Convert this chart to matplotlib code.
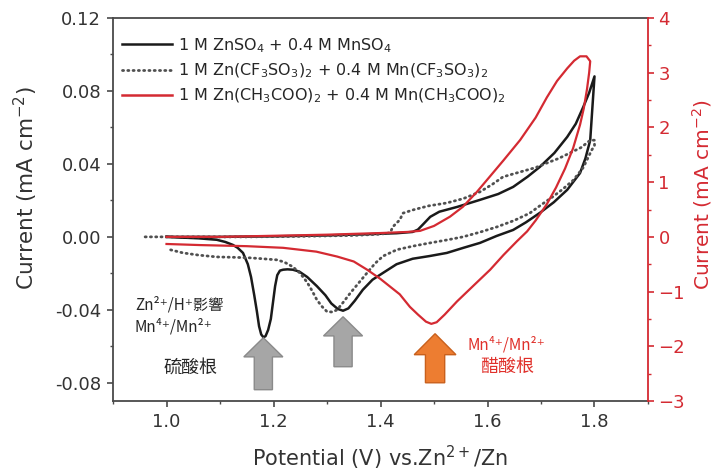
#!/usr/bin/env python
# coding: utf-8
import numpy as np
import matplotlib
matplotlib.use('Agg')
import matplotlib.pyplot as plt
from matplotlib.lines import Line2D
from matplotlib.patches import FancyArrow
from matplotlib.ticker import MultipleLocator

# ============
# data
# ============
# 1 M ZnSO4 + 0.4 M MnSO4  -> left axis
zs_fwd_v = [1.000, 1.100, 1.200, 1.300, 1.380, 1.430, 1.460, 1.470, 1.480, 1.493, 1.510,
            1.543, 1.586, 1.620, 1.648, 1.675, 1.698, 1.725, 1.749, 1.765, 1.779, 1.790, 1.800]
zs_fwd_i = [0.0, 0.0, 0.0003, 0.0008, 0.0015, 0.002, 0.0027, 0.004, 0.007, 0.011, 0.0138,
            0.0164, 0.0203, 0.0235, 0.0274, 0.033, 0.0384, 0.046, 0.0548, 0.062, 0.0712, 0.079, 0.088]
zs_rev_v = [1.800, 1.797, 1.792, 1.783, 1.773, 1.749, 1.724, 1.698, 1.672, 1.648, 1.617, 1.586,
            1.555, 1.524, 1.492, 1.460, 1.430, 1.405, 1.385, 1.367, 1.352, 1.340, 1.330, 1.320,
            1.308, 1.297, 1.281, 1.263, 1.248, 1.236, 1.226, 1.218, 1.212, 1.207, 1.203, 1.199,
            1.195, 1.190, 1.185, 1.181, 1.177, 1.173, 1.169, 1.164, 1.158, 1.152, 1.143, 1.133,
            1.124, 1.110, 1.094, 1.060, 1.030, 1.000]
zs_rev_i = [0.088, 0.075, 0.053, 0.043, 0.035, 0.0258, 0.019, 0.0132, 0.008, 0.0038, 0.0005, -0.0033,
            -0.006, -0.0088, -0.0105, -0.012, -0.015, -0.0197, -0.0235, -0.029, -0.035, -0.0392, -0.0405, -0.0395,
            -0.0365, -0.032, -0.027, -0.022, -0.019, -0.018, -0.0178, -0.018, -0.0185, -0.021, -0.027, -0.036,
            -0.045, -0.051, -0.0545, -0.055, -0.0535, -0.049, -0.041, -0.032, -0.022, -0.015, -0.0088, -0.006,
            -0.0044, -0.0028, -0.0016, -0.0008, -0.0004, 0.0]

# 1 M Zn(CF3SO3)2 + 0.4 M Mn(CF3SO3)2 -> left axis
cf_fwd_v = [0.960, 1.050, 1.150, 1.250, 1.350, 1.400, 1.418, 1.423, 1.436, 1.442, 1.461, 1.490,
            1.524, 1.555, 1.586, 1.610, 1.629, 1.661, 1.690, 1.711, 1.733, 1.754, 1.775, 1.792, 1.800]
cf_fwd_i = [0.0, 0.0, 0.0, 0.0003, 0.0008, 0.0015, 0.0022, 0.0055, 0.0093, 0.013, 0.0148, 0.017,
            0.0186, 0.021, 0.0247, 0.029, 0.0329, 0.0356, 0.038, 0.0405, 0.043, 0.046, 0.049, 0.053, 0.053]
cf_rev_v = [1.800, 1.795, 1.779, 1.760, 1.740, 1.722, 1.700, 1.679, 1.650, 1.618, 1.585, 1.554,
            1.524, 1.493, 1.462, 1.431, 1.405, 1.390, 1.375, 1.360, 1.343, 1.330, 1.319, 1.310,
            1.300, 1.290, 1.281, 1.272, 1.263, 1.250, 1.236, 1.220, 1.206, 1.180, 1.156, 1.125,
            1.094, 1.060, 1.031, 1.006]
cf_rev_i = [0.050, 0.0477, 0.038, 0.031, 0.026, 0.022, 0.0175, 0.013, 0.009, 0.0055, 0.0025, 0.0,
            -0.0017, -0.0033, -0.005, -0.007, -0.0105, -0.0145, -0.0197, -0.025, -0.031, -0.036, -0.040, -0.0412,
            -0.041, -0.038, -0.0345, -0.0295, -0.025, -0.020, -0.0164, -0.0138, -0.0126, -0.012, -0.0115, -0.0112,
            -0.011, -0.010, -0.0088, -0.007]

# 1 M Zn(CH3COO)2 + 0.4 M Mn(CH3COO)2 -> right axis
ac_fwd_v = [1.000, 1.100, 1.200, 1.300, 1.400, 1.450, 1.474, 1.500, 1.530, 1.554, 1.580, 1.599,
            1.630, 1.661, 1.690, 1.711, 1.730, 1.749, 1.762, 1.773, 1.785, 1.792]
ac_fwd_i = [0.0, 0.0, 0.02, 0.04, 0.07, 0.09, 0.11, 0.2, 0.37, 0.55, 0.82, 1.04,
            1.40, 1.77, 2.18, 2.55, 2.85, 3.08, 3.22, 3.30, 3.30, 3.21]
ac_rev_v = [1.792, 1.790, 1.786, 1.780, 1.773, 1.760, 1.745, 1.728, 1.711, 1.690, 1.674, 1.655,
            1.630, 1.605, 1.575, 1.543, 1.520, 1.505, 1.495, 1.485, 1.470, 1.455, 1.436, 1.418,
            1.400, 1.375, 1.350, 1.319, 1.280, 1.218, 1.150, 1.063, 1.000]
ac_rev_i = [3.21, 3.00, 2.70, 2.35, 2.05, 1.62, 1.25, 0.90, 0.60, 0.30, 0.10, -0.08,
            -0.33, -0.60, -0.88, -1.18, -1.42, -1.56, -1.59, -1.55, -1.42, -1.28, -1.05, -0.91,
            -0.77, -0.60, -0.45, -0.36, -0.27, -0.20, -0.17, -0.15, -0.13]

labels = ['1 M ZnSO$_4$ + 0.4 M MnSO$_4$',
          '1 M Zn(CF$_3$SO$_3$)$_2$ + 0.4 M Mn(CF$_3$SO$_3$)$_2$',
          '1 M Zn(CH$_3$COO)$_2$ + 0.4 M Mn(CH$_3$COO)$_2$']

# peak markers (potential, tip current, base current) on left axis
gray_arrow_v = [1.181, 1.330]
gray_arrow_tip = [-0.0553, -0.0438]
gray_arrow_base = [-0.0838, -0.0712]
orange_arrow_v = 1.502
orange_arrow_tip = -0.0531
orange_arrow_base = -0.0800

# ============
# plot
# ============
red = '#d42a32'
dark = '#4a4a4a'
cjk = ['Noto Sans CJK TC', 'DejaVu Sans']

fig = plt.figure(figsize=(7.18, 4.73), dpi=100)
ax = fig.add_axes([0.1574, 0.1522, 0.7451, 0.8097])
ax2 = ax.twinx()

ax.plot(zs_fwd_v + zs_rev_v, zs_fwd_i + zs_rev_i, color='#1a1a1a', lw=1.8, zorder=3)
ax.plot(cf_fwd_v + cf_rev_v, cf_fwd_i + cf_rev_i, color='#505050', lw=2.0,
        linestyle=(0, (0.4, 1.5)), dash_capstyle='round', zorder=3)
ax2.plot(ac_fwd_v + ac_rev_v, ac_fwd_i + ac_rev_i, color=red, lw=1.6, zorder=3)

# arrows
for xv, tip, base in zip(gray_arrow_v, gray_arrow_tip, gray_arrow_base):
    ax.add_patch(FancyArrow(xv, base, 0, tip - base, width=0.034, head_width=0.073,
                            head_length=0.0105, length_includes_head=True,
                            facecolor='#a6a6a6', edgecolor='#8a8a8a', lw=1.0, zorder=4))
ax.add_patch(FancyArrow(orange_arrow_v, orange_arrow_base, 0, orange_arrow_tip - orange_arrow_base,
                        width=0.036, head_width=0.078, head_length=0.0115, length_includes_head=True,
                        facecolor='#ed7d31', edgecolor='#c9601c', lw=1.0, zorder=4))

# annotations
ax.text(0.941, -0.0373, 'Zn²⁺/H⁺影響', family=cjk, fontsize=11, color='#262626',
        ha='left', va='center')
ax.text(0.941, -0.0493, 'Mn⁴⁺/Mn²⁺', family=cjk, fontsize=11, color='#262626',
        ha='left', va='center')
ax.text(1.044, -0.0718, '硫酸根', family=cjk, fontsize=13, color='#262626',
        ha='center', va='center')
ax.text(1.635, -0.0592, 'Mn⁴⁺/Mn²⁺', family=cjk, fontsize=11, color='#e0302a',
        ha='center', va='center')
ax.text(1.636, -0.0712, '醋酸根', family=cjk, fontsize=13, color='#e0302a',
        ha='center', va='center')

# axes
ax.set_xlim(0.9, 1.9)
ax.set_ylim(-0.09, 0.12)
ax2.set_ylim(-3, 4)
ax.set_xticks([1.0, 1.2, 1.4, 1.6, 1.8])
ax.xaxis.set_minor_locator(MultipleLocator(0.1))
ax.set_yticks([-0.08, -0.04, 0.0, 0.04, 0.08, 0.12])
ax.yaxis.set_minor_locator(MultipleLocator(0.02))
ax2.set_yticks(range(-3, 5))
ax2.yaxis.set_minor_locator(MultipleLocator(0.5))
ax.set_xticklabels(['1.0', '1.2', '1.4', '1.6', '1.8'])
ax.set_yticklabels(['-0.08', '-0.04', '0.00', '0.04', '0.08', '0.12'])

for s in ['left', 'bottom', 'top']:
    ax.spines[s].set_color(dark)
    ax.spines[s].set_linewidth(1.3)
ax.spines['right'].set_visible(False)
for s in ['left', 'bottom', 'top']:
    ax2.spines[s].set_visible(False)
ax2.spines['right'].set_color(red)
ax2.spines['right'].set_linewidth(1.3)

ax.tick_params(which='major', direction='out', length=4.5, width=1.2, color=dark,
               labelsize=13, labelcolor='#333333', pad=4)
ax.tick_params(which='minor', direction='out', length=2.5, width=1.0, color=dark)
ax2.tick_params(which='major', direction='out', length=4.5, width=1.2, color=red,
                labelsize=13, labelcolor=red, pad=3)
ax2.tick_params(which='minor', direction='out', length=2.5, width=1.0, color=red)

ax.set_ylabel('Current (mA cm$^{-2}$)', fontsize=15.5, color='#333333')
ax.yaxis.set_label_coords(-0.136, 0.555)
ax2.set_ylabel('Current (mA cm$^{-2}$)', fontsize=14.5, color=red, rotation=90)
ax2.yaxis.set_label_coords(1.078, 0.538)
ax.set_xlabel('Potential (V) vs.Zn$^{2+}$/Zn', fontsize=15, color='#333333')
ax.xaxis.set_label_coords(0.5, -0.112)

handles = [Line2D([], [], color='#1a1a1a', lw=1.8),
           Line2D([], [], color='#505050', lw=2.0, linestyle=(0, (0.4, 1.5)), dash_capstyle='round'),
           Line2D([], [], color=red, lw=1.8)]
ax2.legend(handles, labels, loc='upper left', bbox_to_anchor=(0.017, 0.953), frameon=False,
           fontsize=11.5, handlelength=3.1, handletextpad=0.4, labelspacing=0.42,
           borderpad=0, borderaxespad=0, labelcolor='#262626')

fig.savefig('out.png', dpi=100)
